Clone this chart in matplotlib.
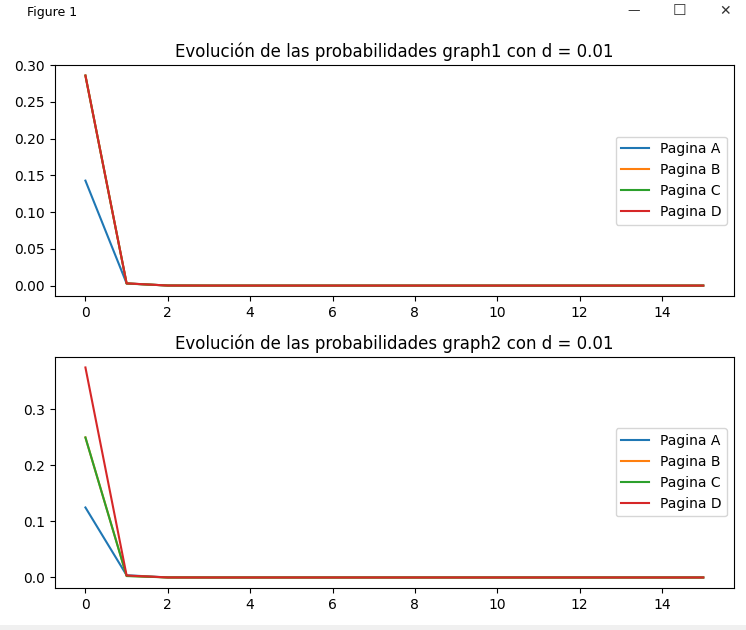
import matplotlib
matplotlib.use("Agg")
from matplotlib import pyplot as plt
from matplotlib.patches import Rectangle

# iteraciones 0..15
iteraciones = list(range(16))
paginas = ['Pagina A', 'Pagina B', 'Pagina C', 'Pagina D']

# graph1, d = 0.01
g1_a = [0.1429, 0.0030, 0.0001, 0, 0, 0, 0, 0, 0, 0, 0, 0, 0, 0, 0, 0]
g1_b = [0.2859, 0.0030, 0.0001, 0, 0, 0, 0, 0, 0, 0, 0, 0, 0, 0, 0, 0]
g1_c = [0.2859, 0.0028, 0.0001, 0, 0, 0, 0, 0, 0, 0, 0, 0, 0, 0, 0, 0]
g1_d = [0.2859, 0.0030, 0.0001, 0, 0, 0, 0, 0, 0, 0, 0, 0, 0, 0, 0, 0]

# graph2, d = 0.01
g2_a = [0.125, 0.0040, 0.0001, 0, 0, 0, 0, 0, 0, 0, 0, 0, 0, 0, 0, 0]
g2_b = [0.250, 0.0030, 0.0001, 0, 0, 0, 0, 0, 0, 0, 0, 0, 0, 0, 0, 0]
g2_c = [0.250, 0.0025, 0.0001, 0, 0, 0, 0, 0, 0, 0, 0, 0, 0, 0, 0, 0]
g2_d = [0.375, 0.0035, 0.0001, 0, 0, 0, 0, 0, 0, 0, 0, 0, 0, 0, 0, 0]

fig = plt.figure(figsize=(7.46, 6.30), dpi=100)

# barra de la ventana
fig.text(0.036, 0.980, 'Figure 1', fontsize=9, va='center', ha='left')
fig.text(0.850, 0.983, '—', fontsize=9, va='center', ha='center', color='#333333')
fig.text(0.911, 0.983, '☐', fontsize=11, va='center', ha='center', color='#333333')
fig.text(0.972, 0.983, '✕', fontsize=10, va='center', ha='center', color='#333333')
fig.patches.append(Rectangle((0, 0), 1, 0.008, transform=fig.transFigure,
                             facecolor='#f0f0f0', edgecolor='none'))

ax1 = fig.add_axes([0.0731, 0.530, 0.911, 0.3667])
ax2 = fig.add_axes([0.0731, 0.0667, 0.911, 0.3667])

for serie, nombre in zip([g1_a, g1_b, g1_c, g1_d], paginas):
    ax1.plot(iteraciones, serie, label=nombre)
ax1.set_title('Evolución de las probabilidades graph1 con d = 0.01')
ax1.legend(loc='center right')

for serie, nombre in zip([g2_a, g2_b, g2_c, g2_d], paginas):
    ax2.plot(iteraciones, serie, label=nombre)
ax2.set_title('Evolución de las probabilidades graph2 con d = 0.01')
ax2.legend(loc='center right')

fig.savefig('out.png', dpi=100)
